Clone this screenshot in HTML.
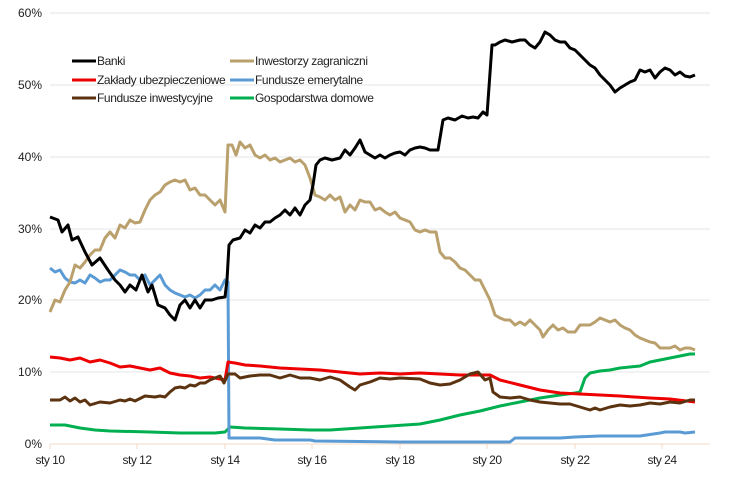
<!DOCTYPE html>
<html><head><meta charset="utf-8"><style>
body{margin:0;background:#fff}
svg{display:block;font-family:"Liberation Sans",sans-serif}
</style></head><body>
<svg width="739" height="487" viewBox="0 0 739 487">
<g stroke="#e4e4e4" stroke-width="1">
<line x1="50" y1="13" x2="710" y2="13"/><line x1="50" y1="85" x2="710" y2="85"/>
<line x1="50" y1="157" x2="710" y2="157"/><line x1="50" y1="229" x2="710" y2="229"/>
<line x1="50" y1="300" x2="710" y2="300"/><line x1="50" y1="372" x2="710" y2="372"/>
</g>
<line x1="50" y1="444" x2="710" y2="444" stroke="#f3d9c4"/>
<g stroke="#f3d9c4"><line x1="50" y1="444" x2="50" y2="449"/><line x1="137" y1="444" x2="137" y2="449"/><line x1="225" y1="444" x2="225" y2="449"/><line x1="312" y1="444" x2="312" y2="449"/><line x1="400" y1="444" x2="400" y2="449"/><line x1="487" y1="444" x2="487" y2="449"/><line x1="575" y1="444" x2="575" y2="449"/><line x1="662" y1="444" x2="662" y2="449"/></g>
<g font-size="12" fill="#222" text-anchor="end">
<text x="42" y="17">60%</text><text x="42" y="89">50%</text><text x="42" y="161">40%</text><text x="42" y="233">30%</text><text x="42" y="304">20%</text><text x="42" y="376">10%</text><text x="42" y="448">0%</text>
</g>
<g font-size="12" fill="#222" text-anchor="middle" letter-spacing="-0.5">
<text x="50" y="464">sty 10</text><text x="137" y="464">sty 12</text><text x="225" y="464">sty 14</text><text x="312" y="464">sty 16</text><text x="400" y="464">sty 18</text><text x="487" y="464">sty 20</text><text x="575" y="464">sty 22</text><text x="662" y="464">sty 24</text>
</g>
<g fill="none" stroke-width="3" stroke-linejoin="round">
<polyline stroke="#00b050" points="50,425 65,425 80,428 95,430 110,431 150,432 180,433 215,433 225,432 230,427 245,428 280,429 310,430 330,430 360,428 390,426 420,424 440,420 460,415 480,411 500,406 520,402 540,398 560,395 575,393 580,392 585,378 590,373 600,371 610,370 620,368 640,366 650,362 660,360 670,358 680,356 690,354 695,354"/>
<polyline stroke="#5b9bd5" points="50,268 55,272 60,270 65,278 70,282 75,283 80,280 85,283 90,275 95,278 100,282 105,280 110,280 115,275 120,270 125,272 130,275 135,275 140,280 145,275 150,285 155,280 160,275 165,285 170,290 175,293 180,295 185,297 190,295 195,298 200,295 205,290 210,290 215,285 220,290 225,280 228,282 229,438 260,438 275,440 310,440 315,441 400,442 510,442 515,438 560,438 575,437 600,436 640,436 660,433 665,432 680,432 685,433 695,432"/>
<polyline stroke="#ee0000" points="50,357 60,358 70,360 80,358 90,362 100,360 110,363 120,367 130,366 140,368 150,370 160,368 170,373 180,375 190,376 200,378 210,377 220,379 225,380 228,362 235,363 245,365 260,366 280,368 300,369 320,370 340,372 360,374 380,373 400,374 420,373 440,374 460,375 490,375 500,380 520,385 540,390 560,393 580,394 600,395 620,396 650,398 670,399 695,402"/>
<polyline stroke="#5c3310" points="50,400 60,400 65,397 70,401 75,398 80,402 85,400 90,405 100,402 110,403 120,400 125,401 130,399 135,401 145,396 155,397 160,396 165,397 170,392 175,388 180,387 185,388 190,385 195,386 200,383 205,383 210,380 215,378 220,376 224,383 228,374 235,374 240,378 250,376 260,375 270,375 280,378 290,375 300,378 310,378 320,380 330,377 340,380 350,387 355,390 360,385 370,382 380,378 390,379 400,378 420,379 430,383 440,385 450,384 460,380 470,374 478,372 485,380 490,378 493,392 500,397 510,398 520,397 530,400 540,402 550,403 560,404 570,404 580,407 590,410 595,408 600,410 610,407 620,405 630,406 640,405 650,403 660,404 670,402 680,403 690,400 695,400"/>
<polyline stroke="#b9a06c" points="50,312 55,300 60,302 65,290 70,282 75,265 80,268 85,262 90,255 95,250 100,250 105,238 110,232 115,238 120,225 125,228 130,220 135,223 140,222 145,210 150,200 155,195 160,192 165,185 170,182 175,180 180,182 185,180 190,190 195,188 200,195 205,195 210,200 215,205 220,200 225,212 228,145 232,145 236,155 240,142 245,148 250,145 255,155 260,158 265,155 270,160 275,158 280,162 285,160 290,158 295,162 300,160 305,165 310,178 315,195 320,197 325,200 330,195 335,200 340,197 345,212 350,205 355,210 360,200 365,202 370,202 375,210 380,208 385,212 390,215 395,212 400,218 405,220 410,222 415,230 420,232 425,230 430,232 436,232 440,252 445,258 450,258 455,262 460,268 465,270 470,275 475,280 480,280 485,290 490,300 495,315 500,318 505,320 510,320 515,325 520,322 525,325 530,320 535,325 540,330 543,337 548,330 553,325 558,330 563,328 568,332 575,332 580,325 585,325 590,325 595,322 600,318 605,320 610,322 615,320 620,325 625,328 630,330 635,335 640,338 645,340 650,342 655,343 660,348 665,348 670,348 675,346 680,350 685,348 690,348 695,350"/>
<polyline stroke="#000" points="50,217 58,220 62,232 68,225 72,240 78,237 85,252 92,265 100,258 108,270 115,280 120,285 125,292 130,285 136,290 142,275 148,292 152,285 158,305 165,308 170,315 175,320 180,305 185,300 190,308 195,300 200,308 205,300 212,300 218,298 225,297 227,280 229,245 233,240 240,238 245,230 250,233 255,225 260,228 265,222 270,222 275,218 280,215 285,210 290,215 295,208 300,215 305,205 310,200 313,185 316,165 320,160 325,158 332,160 340,158 345,150 350,155 355,148 360,140 365,152 370,155 375,158 380,155 385,158 390,155 395,153 400,152 405,155 410,150 415,148 420,147 425,148 430,150 438,150 443,120 448,118 455,120 462,116 468,118 473,117 478,118 483,112 487,115 492,45 495,45 500,42 505,40 512,42 520,40 525,40 530,45 535,48 540,42 545,32 550,35 555,40 560,42 565,42 570,48 575,50 580,55 585,60 590,65 595,68 600,75 605,80 610,85 615,92 620,88 625,85 630,82 635,80 640,70 645,72 650,70 655,78 660,72 665,68 670,70 675,75 680,72 685,76 690,77 695,75"/>
</g>
<g stroke-width="3">
<line x1="72" y1="61" x2="96" y2="61" stroke="#000"/>
<line x1="72" y1="80" x2="96" y2="80" stroke="#ee0000"/>
<line x1="72" y1="98" x2="96" y2="98" stroke="#5c3310"/>
<line x1="230" y1="61" x2="254" y2="61" stroke="#b9a06c"/>
<line x1="230" y1="80" x2="254" y2="80" stroke="#5b9bd5"/>
<line x1="230" y1="98" x2="254" y2="98" stroke="#00b050"/>
</g>
<g font-size="12" fill="#222" letter-spacing="-0.4">
<text x="97" y="65">Banki</text>
<text x="97" y="84">Zakłady ubezpieczeniowe</text>
<text x="97" y="102">Fundusze inwestycyjne</text>
<text x="255" y="65">Inwestorzy zagraniczni</text>
<text x="255" y="84">Fundusze emerytalne</text>
<text x="255" y="102">Gospodarstwa domowe</text>
</g>
</svg>
</body></html>
